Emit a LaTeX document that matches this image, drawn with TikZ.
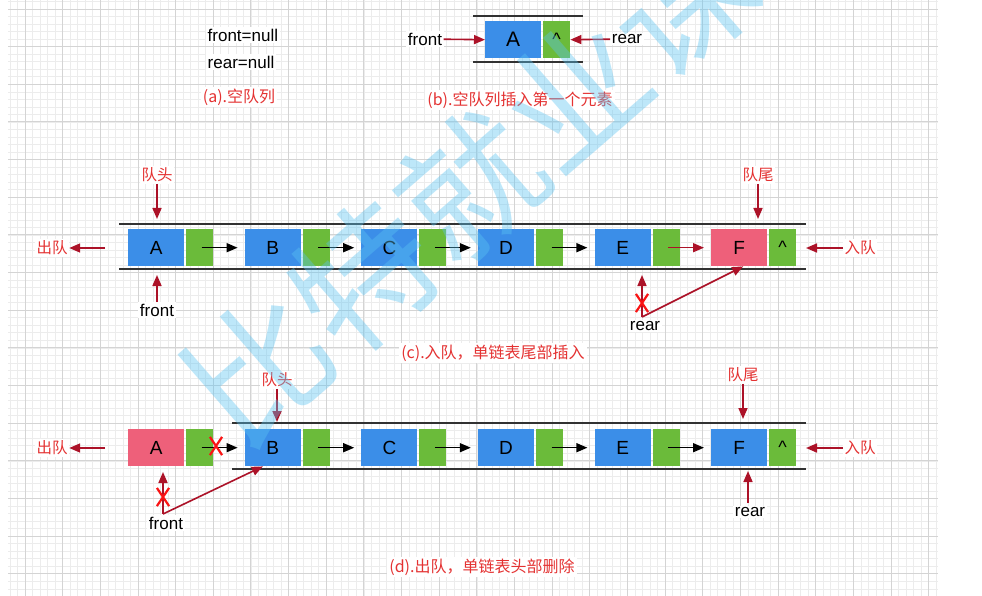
\documentclass[tikz,border=0pt]{standalone}
\usepackage{fontspec}
\setmainfont{Liberation Sans}
\newfontfamily\cjk{Noto Sans CJK SC}
\usetikzlibrary{arrows.meta,shapes.misc}
\definecolor{qblue}{RGB}{59,142,232}
\definecolor{qgreen}{RGB}{107,187,58}
\definecolor{qpink}{RGB}{238,96,122}
\definecolor{dred}{RGB}{172,18,40}
\definecolor{lred}{RGB}{228,50,50}
\definecolor{xred}{RGB}{250,20,20}
\definecolor{railc}{RGB}{50,50,50}
\definecolor{gmin}{RGB}{236,236,236}
\definecolor{gmaj}{RGB}{212,212,212}
\definecolor{wmc}{RGB}{90,195,242}
\begin{document}
\begin{tikzpicture}[x=1pt,y=-1pt,
  dat/.style={rectangle, inner sep=0pt, minimum width=56pt, minimum height=37pt, anchor=north west, font=\fontsize{19}{20}\selectfont},
  bluebox/.style={dat, fill=qblue},
  pinkbox/.style={dat, fill=qpink},
  nextbox/.style={rectangle, inner sep=0pt, minimum width=27pt, minimum height=37pt, anchor=north west, fill=qgreen, font=\fontsize{18}{18}\selectfont},
  ptr/.style={-{Triangle[length=11pt,width=9pt]}, line width=1.5pt, black, shorten <=2pt, shorten >=7pt},
  rar/.style={-{Triangle[length=11pt,width=9pt]}, line width=1.6pt, dred},
  lbl/.style={font=\fontsize{17}{19}\selectfont, fill=white, inner sep=1.5pt},
  redlbl/.style={font=\cjk\fontsize{15.5}{18}\selectfont, text=lred, fill=white, inner sep=1.5pt},
  caplbl/.style={font=\cjk\fontsize{16}{18}\selectfont, text=lred, fill=white, inner sep=2pt},
  xmark/.style={cross out, draw=xred, line width=2.2pt, minimum width=10pt, minimum height=16pt, inner sep=0pt},
  railline/.style={line width=1.6pt, railc},
  gminor/.style={gmin, line width=0.6pt},
  gmajor/.style={gmaj, line width=0.9pt}]
\useasboundingbox (0,0) rectangle (982,596);
\fill[white] (0,0) rectangle (982,596);
% grid
\begin{scope}
\clip (8,0) rectangle (938,596);
\foreach \i in {-3,...,125} \draw[gminor] ({25+\i*7.53},0) -- ({25+\i*7.53},596);
\foreach \i in {-2,...,80} \draw[gminor] (8,{9+\i*7.53}) -- (938,{9+\i*7.53});
\foreach \i in {-1,...,25} \draw[gmajor] ({25+\i*37.65},0) -- ({25+\i*37.65},596);
\foreach \i in {-1,...,16} \draw[gmajor] (8,{9+\i*37.65}) -- (938,{9+\i*37.65});
\end{scope}

% ---------- (a)
\node[lbl, anchor=west] (aFront) at (206,35) {front=null};
\node[lbl, anchor=west] (aRear) at (206,62) {rear=null};
\node[caplbl] (aCap) at (239,97) {(a).空队列};

% ---------- (b)
\draw[railline] (473,16) -- (583,16);
\draw[railline] (473,62) -- (583,62);
\node[bluebox, font=\fontsize{21}{22}\selectfont] (bA) at (485,21) {A};
\node[nextbox] (bG) at (543,21) {\textasciicircum};
\node[lbl] (bFront) at (425,39) {front};
\node[lbl] (bRear) at (627,39) {rear};
\draw[rar] (bFront) -- (bA.west);
\draw[rar] (bRear) -- (bG.east);
\node[caplbl] (bCap) at (520,100) {(b).空队列插入第一个元素};

% ---------- (c)
\draw[railline] (119,224) -- (806,224);
\draw[railline] (119,269) -- (806,269);
\foreach \n/\i in {A/0,B/1,C/2,D/3,E/4} {
  \node[bluebox] (c\n) at ({128+116.6*\i},229) {\n};
  \node[nextbox] (cg\n) at ({186+116.6*\i},229) {};
}
\node[pinkbox] (cF) at (711,229) {F};
\node[nextbox] (cgF) at (769,229) {\textasciicircum};
\draw[ptr] (cgA.center) -- (cB.west);
\draw[ptr] (cgB.center) -- (cC.west);
\draw[ptr] (cgC.center) -- (cD.west);
\draw[ptr] (cgD.center) -- (cE.west);
\draw[ptr, dred] (cgE.center) -- (cF.west);
\node[redlbl] (cHead) at (157,175) {队头};
\coordinate (cHeadT) at (157,219);
\draw[rar] (cHead) -- (cHeadT);
\node[lbl] (cFront) at (157,310) {front};
\coordinate (cFrontT) at (157,275);
\draw[rar] (cFront) -- (cFrontT);
\node[redlbl] (cOut) at (52,248) {出队};
\coordinate (cOutS) at (105,248);
\draw[rar] (cOutS) -- (cOut);
\node[redlbl] (cIn) at (860,248) {入队};
\coordinate (cInT) at (806,248);
\draw[rar] (cIn) -- (cInT);
\node[redlbl] (cTail) at (758,175) {队尾};
\coordinate (cTailT) at (758,219);
\draw[rar] (cTail) -- (cTailT);
\node[lbl] (cRear) at (645,326) {rear};
\coordinate (cRearB) at (642,317);
\coordinate (cRearT) at (642,275);
\draw[rar] (cRearB) -- (cRearT);
\draw[rar] (cRearB) -- (cF.282);
\node[xmark] (cX) at (642,303) {};
\node[caplbl] (cCap) at (493,353) {(c).入队，单链表尾部插入};

% ---------- (d)
\draw[railline] (232,423) -- (806,423);
\draw[railline] (232,469) -- (806,469);
\node[pinkbox] (dA) at (128,429) {A};
\node[nextbox] (dgA) at (186,429) {};
\foreach \n/\i in {B/1,C/2,D/3,E/4} {
  \node[bluebox] (d\n) at ({128+116.6*\i},429) {\n};
  \node[nextbox] (dg\n) at ({186+116.6*\i},429) {};
}
\node[bluebox] (dF) at (711,429) {F};
\node[nextbox] (dgF) at (769,429) {\textasciicircum};
\draw[ptr] (dgA.center) -- (dB.west);
\draw[ptr] (dgB.center) -- (dC.west);
\draw[ptr] (dgC.center) -- (dD.west);
\draw[ptr] (dgD.center) -- (dE.west);
\draw[ptr] (dgE.center) -- (dF.west);
\node[xmark] (dX1) at (216,446) {};
\node[redlbl] (dOut) at (52,448) {出队};
\coordinate (dOutS) at (105,448);
\draw[rar] (dOutS) -- (dOut);
\node[redlbl] (dIn) at (860,448) {入队};
\coordinate (dInT) at (806,448);
\draw[rar] (dIn) -- (dInT);
\node[redlbl] (dHead) at (277,380) {队头};
\coordinate (dHeadT) at (277,422);
\draw[rar] (dHead) -- (dHeadT);
\node[redlbl] (dTail) at (743,375) {队尾};
\coordinate (dTailT) at (743,419);
\draw[rar] (dTail) -- (dTailT);
\node[lbl] (dRear) at (750,512) {rear};
\coordinate (dRearB) at (748,503);
\coordinate (dRearT) at (748,471);
\draw[rar] (dRearB) -- (dRearT);
\node[lbl] (dFront) at (166,523) {front};
\coordinate (dFrontB) at (163,514);
\coordinate (dFrontT) at (163,472);
\draw[rar] (dFrontB) -- (dFrontT);
\draw[rar] (dFrontB) -- (dB.242);
\node[xmark] (dX2) at (163,497) {};
\node[caplbl] (dCap) at (482,567) {(d).出队，单链表头部删除};

% ---------- watermark
\node[rotate=41, text=wmc, opacity=0.4, font=\cjk\fontsize{140}{140}\selectfont] (wmk) at (470,185) {比特就业课};
\end{tikzpicture}
\end{document}
